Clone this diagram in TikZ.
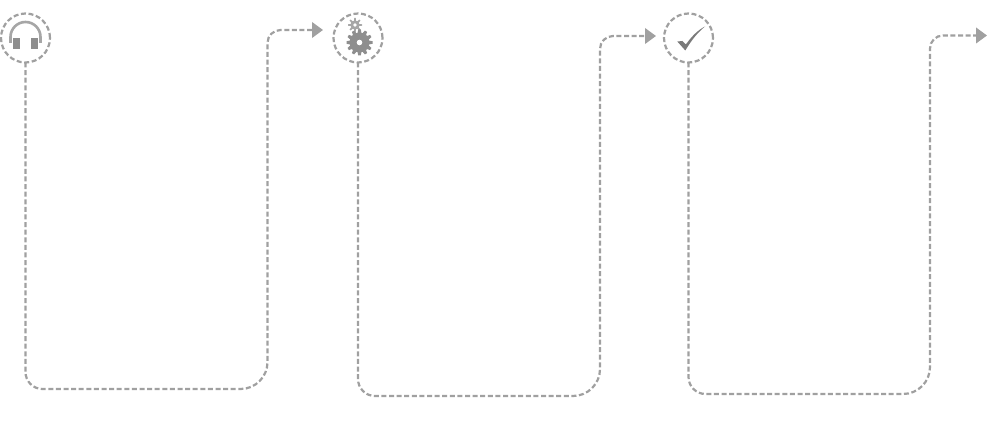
\documentclass[tikz,border=0pt]{standalone}
\usetikzlibrary{arrows.meta}
\definecolor{linegray}{HTML}{A0A0A0}
\definecolor{icongray}{HTML}{8E8E8E}
\definecolor{bandgray}{HTML}{A6A6A6}
\definecolor{checkgray}{HTML}{7A7A7A}
\tikzset{
  stepcircle/.style={circle,draw=linegray,line width=2.2pt,dash pattern=on 5pt off 2.6pt,minimum size=49pt,inner sep=0pt,outer sep=0pt},
  flow/.style={draw=linegray,line width=2.2pt,dash pattern=on 5pt off 2.6pt,-{Triangle[length=11pt,width=15.5pt,fill=linegray]}},
}
\newcommand{\gearicon}[7]{% x y outer inner hole teeth colour
  \begin{scope}[shift={(#1,#2)}]
    \fill[#7] (0,0) circle[radius=#4];
    \foreach \a in {1,...,#6}{
      \fill[#7,rotate=\a*360/#6] (#4-1,-{0.16*#3}) -- (#3,-{0.1*#3}) -- (#3,{0.1*#3}) -- (#4-1,{0.16*#3}) -- cycle;
    }
    \fill[white] (0,0) circle[radius=#5];
  \end{scope}
}
\begin{document}
\begin{tikzpicture}[x=1pt,y=-1pt]
\useasboundingbox[fill=white] (0,0) rectangle (996,430);

% step circles
\node[stepcircle] (c1) at (25.5,38) {};
\node[stepcircle] (c2) at (358,38) {};
\node[stepcircle] (c3) at (688.5,38) {};

% connector ends and corners
\coordinate (b1) at (25.5,389);  \coordinate (r1) at (267.5,389); \coordinate (t1) at (267.5,30); \coordinate (e1) at (323,30);
\coordinate (b2) at (358,396);   \coordinate (r2) at (600,396);   \coordinate (t2) at (600,36);   \coordinate (e2) at (656,36);
\coordinate (b3) at (688.5,394); \coordinate (r3) at (930,394);   \coordinate (t3) at (930,35.5); \coordinate (e3) at (987,35.5);

\draw[flow,rounded corners=17pt] (c1.south) -- (b1) [rounded corners=27pt] -- (r1) [rounded corners=13pt] -- (t1) -- (e1);
\draw[flow,rounded corners=17pt] (c2.south) -- (b2) [rounded corners=27pt] -- (r2) [rounded corners=13pt] -- (t2) -- (e2);
\draw[flow,rounded corners=17pt] (c3.south) -- (b3) [rounded corners=27pt] -- (r3) [rounded corners=13pt] -- (t3) -- (e3);

% headphones
\draw[bandgray,line width=2.6pt] (10.5,43) -- (10.5,37) arc[start angle=180,end angle=360,x radius=15,y radius=15] -- (40.5,43);
\fill[icongray] (13,38) rectangle (19.5,49.5);
\fill[icongray] (31,38) rectangle (37.5,49.5);

% gears
\gearicon{355}{25}{7}{4.6}{1.8}{8}{bandgray}
\gearicon{359.5}{42.5}{13}{10}{2.8}{12}{icongray}

% check mark
\fill[checkgray] (677.3,41.5) -- (682.5,41) -- (685.8,44.5)
  .. controls (692,36) and (698,30) .. (705,26.5)
  .. controls (697,33) and (691,41) .. (685.3,50.5) -- cycle;
\end{tikzpicture}
\end{document}
